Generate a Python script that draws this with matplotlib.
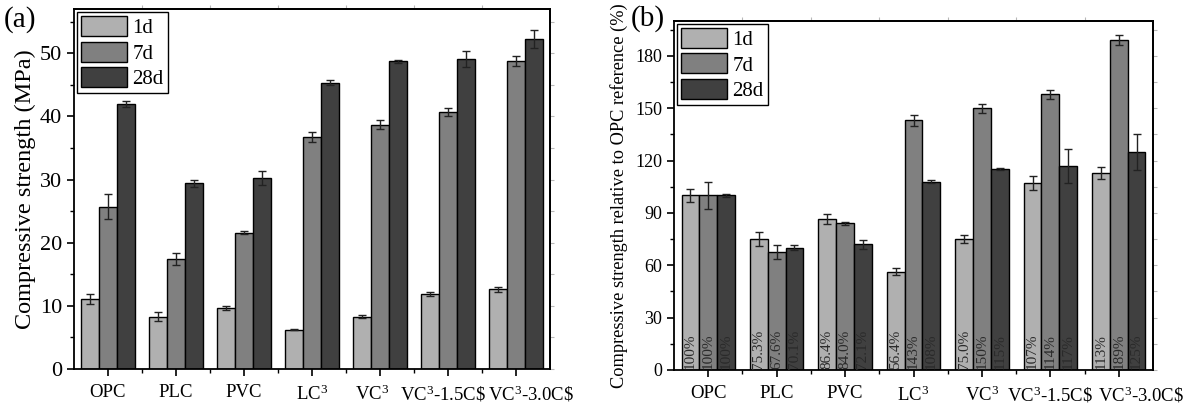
import matplotlib

matplotlib.use("Agg")

import matplotlib.pyplot as plt
import numpy as np
from matplotlib.ticker import FixedLocator, MultipleLocator
from matplotlib.transforms import ScaledTranslation


CATEGORIES = ["OPC", "PLC", "PVC", "LC$^3$", "VC$^3$", "VC$^3$-1.5C\\$", "VC$^3$-3.0C\\$"]
AGES = ["1d", "7d", "28d"]
COLORS = ["#b0b0b0", "#808080", "#404040"]

# panel (a): compressive strength, MPa
STRENGTH = {
    "1d": [11.1, 8.3, 9.6, 6.2, 8.3, 11.9, 12.6],
    "7d": [25.7, 17.4, 21.6, 36.7, 38.7, 40.7, 48.7],
    "28d": [42.0, 29.4, 30.2, 45.3, 48.7, 49.1, 52.3],
}
STRENGTH_ERR = {
    "1d": [0.8, 0.7, 0.3, 0.1, 0.3, 0.3, 0.4],
    "7d": [2.0, 1.0, 0.3, 0.8, 0.7, 0.7, 0.8],
    "28d": [0.5, 0.6, 1.1, 0.4, 0.2, 1.3, 1.4],
}

# panel (b): relative to OPC reference, %
RELATIVE = {
    "1d": [100, 75.3, 86.4, 56.4, 75.0, 107, 113],
    "7d": [100, 67.6, 84.0, 143, 150, 158, 189],
    "28d": [100, 70.1, 72.1, 108, 115, 117, 125],
}
RELATIVE_ERR = {
    "1d": [4.0, 4.0, 3.0, 2.0, 2.5, 4.0, 3.5],
    "7d": [8.0, 4.0, 1.0, 3.0, 2.5, 2.5, 3.0],
    "28d": [1.0, 1.5, 2.5, 0.8, 0.5, 9.6, 10.3],
}
RELATIVE_LABELS = {
    "1d": ["100%", "75.3%", "86.4%", "56.4%", "75.0%", "107%", "113%"],
    "7d": ["100%", "67.6%", "84.0%", "143%", "150%", "114%", "189%"],
    "28d": ["100%", "70.1%", "72.1%", "108%", "115%", "117%", "125%"],
}

plt.rcParams["font.family"] = ["Liberation Serif", "DejaVu Serif"]
plt.rcParams["mathtext.fontset"] = "custom"
plt.rcParams["mathtext.rm"] = "Liberation Serif"
plt.rcParams["mathtext.it"] = "Liberation Serif:italic"
plt.rcParams["mathtext.bf"] = "Liberation Serif:bold"


def draw_bars(fig, ax, values, errors, width, label_shift, labels=None):
    x = np.arange(len(CATEGORIES))
    for i, age in enumerate(AGES):
        pos = x + (i - 1) * width
        ax.bar(pos, values[age], width, color=COLORS[i], edgecolor="black",
               linewidth=1.0, label=age, zorder=2)
        ax.errorbar(pos, values[age], yerr=errors[age], fmt="none",
                    ecolor="#222222", elinewidth=1.0, capsize=3, capthick=1.0, zorder=3)
        if labels is not None:
            for p, lab in zip(pos, labels[age]):
                ax.text(p, 0.6, lab, rotation=90, ha="center", va="bottom",
                        fontsize=11, color="#2a2a2a", zorder=4)
    ax.set_xlim(-0.5, len(CATEGORIES) - 0.5)
    ax.set_xticks(x)
    ax.set_xticklabels(CATEGORIES, fontsize=13.5)
    ax.xaxis.set_minor_locator(FixedLocator(x[:-1] + 0.5))
    ax.tick_params(axis="both", which="major", direction="out", length=5, width=1.2)
    ax.tick_params(axis="both", which="minor", direction="out", length=3, width=1.0)
    ax.tick_params(axis="x", which="major", pad=6)
    for s in ax.spines.values():
        s.set_linewidth(1.3)
    # nudge crowded category labels sideways, as in the original figure
    ticks = ax.xaxis.get_major_ticks()
    for idx, dx in label_shift.items():
        lab = ticks[idx].label1
        lab.set_transform(lab.get_transform() + ScaledTranslation(dx / 100, 0, fig.dpi_scale_trans))
    # faint ticks on top and right
    top = ax.secondary_xaxis("top")
    top.set_xticks(x[:-1] + 0.5)
    top.tick_params(direction="out", length=3, color="#b8b8b8", labeltop=False)
    top.spines["top"].set_linewidth(1.3)
    right = ax.secondary_yaxis("right")
    right.yaxis.set_major_locator(ax.yaxis.get_minor_locator())
    right.tick_params(direction="out", length=3, color="#b8b8b8", labelright=False)
    right.spines["right"].set_linewidth(1.3)
    ax.legend(loc="upper left", fontsize=15, handlelength=2.2, handleheight=1.1,
              labelspacing=0.15, borderpad=0.2, handletextpad=0.25, borderaxespad=0.15,
              fancybox=False, edgecolor="black", framealpha=1)


fig = plt.figure(figsize=(11.9, 4.07), dpi=100)
ax1 = fig.add_axes([74 / 1190, 1 - 369 / 407, 476 / 1190, 360 / 407])
ax2 = fig.add_axes([674 / 1190, 1 - 370 / 407, 479 / 1190, 349 / 407])

ax1.set_ylim(0, 57)
ax1.yaxis.set_major_locator(MultipleLocator(10))
ax1.yaxis.set_minor_locator(MultipleLocator(5))
draw_bars(fig, ax1, STRENGTH, STRENGTH_ERR, 0.263, {4: -8, 5: -5, 6: 15})
ax1.tick_params(axis="y", labelsize=16)
ax1.set_ylabel("Compressive strength (MPa)", fontsize=17.5, labelpad=3)
fig.text(4 / 1190, 1 - 20 / 407, "(a)", fontsize=21, va="center")

ax2.set_ylim(0, 200)
ax2.yaxis.set_major_locator(MultipleLocator(30))
ax2.yaxis.set_minor_locator(MultipleLocator(15))
draw_bars(fig, ax2, RELATIVE, RELATIVE_ERR, 0.26, {6: 22}, labels=RELATIVE_LABELS)
ax2.tick_params(axis="y", labelsize=13)
ax2.set_ylabel("Compressive strength relative to OPC reference (%)", fontsize=13.2, labelpad=5)
fig.text(631 / 1190, 1 - 19 / 407, "(b)", fontsize=21, va="center")

fig.savefig("out.png", dpi=100)
